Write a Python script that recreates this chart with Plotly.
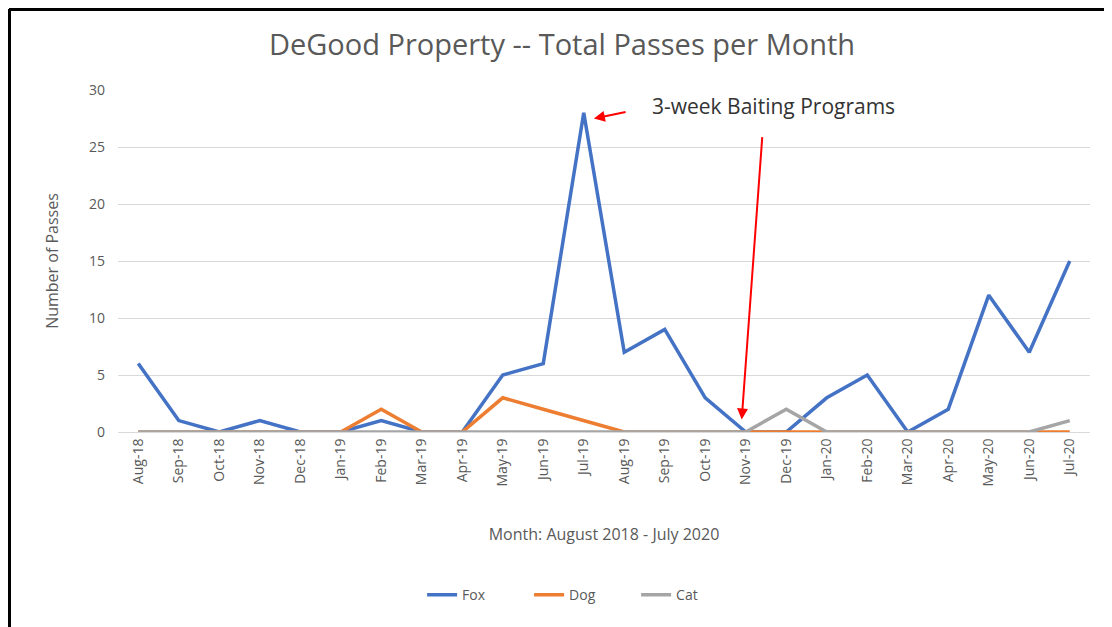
import plotly.graph_objects as go

months = ["Aug-18", "Sep-18", "Oct-18", "Nov-18", "Dec-18", "Jan-19", "Feb-19", "Mar-19",
          "Apr-19", "May-19", "Jun-19", "Jul-19", "Aug-19", "Sep-19", "Oct-19", "Nov-19",
          "Dec-19", "Jan-20", "Feb-20", "Mar-20", "Apr-20", "May-20", "Jun-20", "Jul-20"]
fox = [6, 1, 0, 1, 0, 0, 1, 0, 0, 5, 6, 28, 7, 9, 3, 0, 0, 3, 5, 0, 2, 12, 7, 15]
dog = [0, 0, 0, 0, 0, 0, 2, 0, 0, 3, 2, 1, 0, 0, 0, 0, 0, 0, 0, 0, 0, 0, 0, 0]
cat = [0, 0, 0, 0, 0, 0, 0, 0, 0, 0, 0, 0, 0, 0, 0, 0, 2, 0, 0, 0, 0, 0, 0, 1]

FONT = "Open Sans"
TXT = "#595959"
W, H = 1104, 619  # page has an 8px body margin

fig = go.Figure()
fig.add_trace(go.Scatter(x=months, y=fox, mode="lines", name="Fox",
                         line=dict(color="#4472C4", width=3.5)))
fig.add_trace(go.Scatter(x=months, y=dog, mode="lines", name="Dog",
                         line=dict(color="#ED7D31", width=3.5)))
fig.add_trace(go.Scatter(x=months, y=cat, mode="lines", name="Cat",
                         line=dict(color="#A5A5A5", width=3.5)))

fig.update_layout(
    width=W, height=H,
    margin=dict(l=110, r=22, t=82, b=195, autoexpand=False),
    paper_bgcolor="white", plot_bgcolor="white",
    font=dict(family=FONT, color=TXT, size=13),
    title=dict(text="DeGood Property -- Total Passes per Month", x=(562 - 8) / W, xanchor="center",
               y=1 - 37 / H, yanchor="middle", font=dict(size=29, color=TXT, family=FONT)),
    legend=dict(orientation="h", x=0.478, xanchor="center", y=-0.477, yanchor="middle",
                font=dict(size=14, color=TXT), entrywidth=62, entrywidthmode="pixels",
                tracegroupgap=0),
    showlegend=True,
)
fig.update_xaxes(
    type="category", range=[-0.5, len(months) - 0.5], autorange=False,
    tickangle=-90, showgrid=False, showline=True,
    linecolor="#D9D9D9", linewidth=1, ticks="", tickfont=dict(size=14, color=TXT),
    title=dict(text="Month: August 2018 - July 2020", font=dict(size=16, color=TXT), standoff=43),
)
fig.update_yaxes(
    range=[0, 30], autorange=False, dtick=5, showgrid=True, gridcolor="#D9D9D9", gridwidth=1,
    zeroline=False, showline=False, ticks="", tickfont=dict(size=14, color=TXT),
    ticklabelstandoff=12,
    title=dict(text="Number of Passes", font=dict(size=16, color=TXT), standoff=26),
)

# annotation text
fig.add_annotation(text="3-week Baiting Programs", xref="paper", yref="paper",
                   x=(773 - 118) / 972, y=(432 - 106) / 342, showarrow=False,
                   font=dict(size=21, color="#333333", family=FONT), xanchor="center", yanchor="middle")
# small red arrow to Jul-19 peak
fig.add_annotation(x=11.25, y=27.5, ax=12.07, ay=28.1, axref="x", ayref="y",
                   xref="x", yref="y", showarrow=True, arrowhead=2, arrowsize=1.1,
                   arrowwidth=2, arrowcolor="#FF0000", standoff=0, text="")
# long red arrow down to Nov-19
fig.add_annotation(x=14.9, y=1.1, ax=15.41, ay=26.0, axref="x", ayref="y",
                   xref="x", yref="y", showarrow=True, arrowhead=2, arrowsize=1.1,
                   arrowwidth=2, arrowcolor="#FF0000", standoff=0, text="")

# outer frame (page pixel -> plot paper)
def px_x(p):
    return (p - 118) / 972

def px_y(p):
    return (432 - p) / 342

fig.add_shape(type="line", xref="paper", yref="paper", x0=px_x(9), x1=px_x(1112),
              y0=px_y(9.5), y1=px_y(9.5), line=dict(color="black", width=3))
fig.add_shape(type="line", xref="paper", yref="paper", x0=px_x(9.5), x1=px_x(9.5),
              y0=px_y(9), y1=px_y(627), line=dict(color="black", width=3))
fig.add_shape(type="line", xref="paper", yref="paper", x0=px_x(1108), x1=px_x(1108),
              y0=px_y(9), y1=px_y(627), line=dict(color="#E0E0E0", width=1))

fig.write_html("out.html")
